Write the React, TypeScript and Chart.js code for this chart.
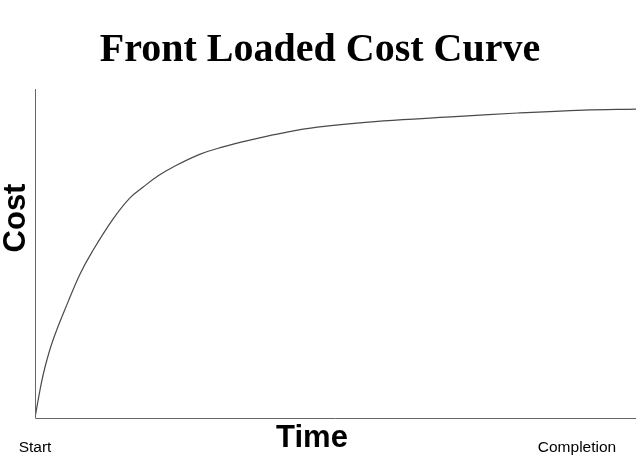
import React, { useEffect, useRef } from "react";
import { Chart, registerables } from "chart.js";

Chart.register(...registerables);

const timePct: number[] = [0, 0.83, 1.67, 3.0, 5.5, 7.5, 9.5, 13, 15.8, 18, 20.5, 23, 27.5, 31.3, 35.8, 40.3, 47, 58, 69.2, 80.3, 91.3, 100];
const costPct: number[] = [0, 8.5, 15.5, 23.7, 35.3, 43.8, 50.5, 60.5, 66.9, 70.2, 73.6, 76.3, 80.2, 82.4, 84.5, 86.3, 88.4, 90.3, 91.5, 92.7, 93.6, 93.9];
const titleText = "Front Loaded Cost Curve";
const xAxisTitle = "Time";
const yAxisTitle = "Cost";
const startLabel = "Start";
const endLabel = "Completion";

const decorPlugin = {
  id: "decor",
  afterDraw(chart: any) {
    const { ctx, chartArea, scales } = chart;
    const xs = scales.x;
    ctx.save();
    ctx.strokeStyle = "#666";
    ctx.lineWidth = 1;
    ctx.beginPath();
    ctx.moveTo(chartArea.left + 0.5, chartArea.top);
    ctx.lineTo(chartArea.left + 0.5, chartArea.bottom + 0.5);
    ctx.lineTo(chartArea.right, chartArea.bottom + 0.5);
    ctx.stroke();
    ctx.fillStyle = "#000";
    ctx.textAlign = "center";
    ctx.textBaseline = "alphabetic";
    ctx.font = "bold 40px 'Liberation Serif', 'Times New Roman', serif";
    ctx.fillText(titleText, 320, 61);
    ctx.font = "bold 31px 'Liberation Sans', Arial, sans-serif";
    ctx.fillText(xAxisTitle, 312, 447);
    ctx.save();
    ctx.translate(25, 218);
    ctx.rotate(-Math.PI / 2);
    ctx.fillText(yAxisTitle, 0, 0);
    ctx.restore();
    ctx.font = "15.5px 'Liberation Sans', Arial, sans-serif";
    ctx.fillText(startLabel, xs.getPixelForValue(0), 452);
    ctx.fillText(endLabel, 577, 452);
    ctx.restore();
  },
};

export default function App() {
  const ref = useRef<HTMLCanvasElement | null>(null);
  useEffect(() => {
    document.body.style.margin = "0";
    const canvas = ref.current;
    if (!canvas) return;
    const chart = new Chart(canvas, {
      type: "line",
      data: {
        datasets: [
          {
            data: timePct.map((t, i) => ({ x: t, y: costPct[i] })),
            borderColor: "#4a4a4a",
            borderWidth: 1.2,
            pointRadius: 0,
            fill: false,
            tension: 0.4,
          },
        ],
      },
      options: {
        responsive: false,
        animation: false,
        layout: { padding: { left: 35, top: 89, right: 0, bottom: 40 } },
        plugins: { legend: { display: false }, tooltip: { enabled: false }, title: { display: false } },
        scales: {
          x: { type: "linear", min: 0, max: 100, display: false },
          y: { type: "linear", min: 0, max: 100, display: false },
        },
      },
      plugins: [decorPlugin],
    });
    return () => chart.destroy();
  }, []);
  return (
    <div style={{ width: 636, height: 458, background: "#fff" }}>
      <canvas ref={ref} width={636} height={458} style={{ display: "block" }} />
    </div>
  );
}
